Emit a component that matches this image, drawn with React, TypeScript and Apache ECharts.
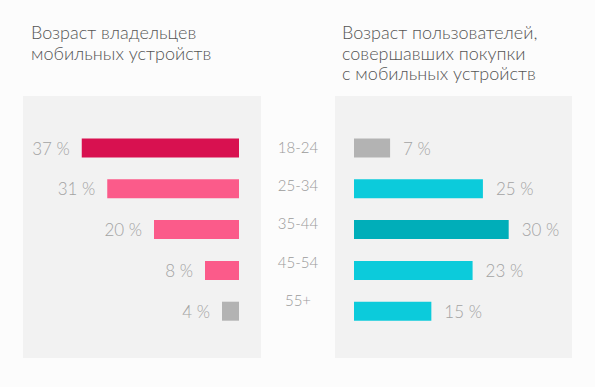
import React, { useEffect, useRef } from "react";
import * as echarts from "echarts";

const ageGroups = ["18-24", "25-34", "35-44", "45-54", "55+"];
const ownersShare = [37, 31, 20, 8, 4];
const buyersShare = [7, 25, 30, 23, 15];
const ownersTitle = "Возраст владельцев\nмобильных устройств";
const buyersTitle = "Возраст пользователей,\nсовершавших покупки\nс мобильных устройств";

const FONT = "Lato, 'Noto Sans', sans-serif";

function colorize(values: number[], base: string, dark: string, gray: string) {
  const mx = Math.max(...values);
  const mn = Math.min(...values);
  return values.map((v) => ({
    value: v,
    itemStyle: { color: v === mx ? dark : v === mn ? gray : base },
  }));
}

export default function App() {
  const ref = useRef<HTMLDivElement>(null);
  useEffect(() => {
    const chart = echarts.init(ref.current!, undefined, { renderer: "svg" });
    const labelStyle = {
      show: true,
      formatter: "{c} %",
      color: "#a3a3a3",
      fontSize: 17,
      fontFamily: FONT,
      fontWeight: 300 as any,
    };
    const titleText = { fontFamily: FONT, fontWeight: 300, fontSize: 18, lineHeight: 20.5, color: "#555555" };
    chart.setOption({
      animation: false,
      backgroundColor: "#fcfcfc",
      title: [
        { text: ownersTitle, left: 26, top: 17, textStyle: titleText },
        { text: buyersTitle, left: 337, top: 17, textStyle: titleText },
      ],
      graphic: [
        { type: "rect", z: 0, shape: { x: 23, y: 96, width: 238, height: 262 }, style: { fill: "#f2f2f2" } },
        { type: "rect", z: 0, shape: { x: 335, y: 96, width: 237, height: 262 }, style: { fill: "#f2f2f2" } },
      ],
      grid: [
        { left: 69, width: 170, top: 127.6, height: 204 },
        { left: 354, width: 165, top: 127.6, height: 204 },
        { left: 298, width: 1, top: 127.5, height: 191.6 },
      ],
      xAxis: [
        { gridIndex: 0, type: "value", min: 0, max: 40, inverse: true, show: false },
        { gridIndex: 1, type: "value", min: 0, max: 32, show: false },
        { gridIndex: 2, type: "value", min: 0, max: 1, show: false },
      ],
      yAxis: [
        { gridIndex: 0, type: "category", data: ageGroups, inverse: true, show: false },
        { gridIndex: 1, type: "category", data: ageGroups, inverse: true, show: false },
        {
          gridIndex: 2,
          type: "category",
          data: ageGroups,
          inverse: true,
          axisLine: { show: false },
          axisTick: { show: false },
          splitLine: { show: false },
          axisLabel: {
            align: "center",
            margin: 0,
            color: "#9a9a9a",
            fontSize: 15,
            fontFamily: FONT,
            fontWeight: 300,
          },
        },
      ],
      series: [
        {
          type: "bar",
          xAxisIndex: 0,
          yAxisIndex: 0,
          barWidth: 19,
          data: colorize(ownersShare, "#fb5b8a", "#d81150", "#b3b3b3"),
          label: { ...labelStyle, position: "left", distance: 12 },
        },
        {
          type: "bar",
          xAxisIndex: 1,
          yAxisIndex: 1,
          barWidth: 19,
          data: colorize(buyersShare, "#0ccbdb", "#00aeb9", "#b3b3b3"),
          label: { ...labelStyle, position: "right", distance: 13 },
        },
      ],
    });
    return () => chart.dispose();
  }, []);
  return (
    <div style={{ position: "fixed", left: 0, top: 0, width: 595, height: 387, background: "#fcfcfc" }}>
      <div ref={ref} style={{ width: 595, height: 387 }} />
    </div>
  );
}
